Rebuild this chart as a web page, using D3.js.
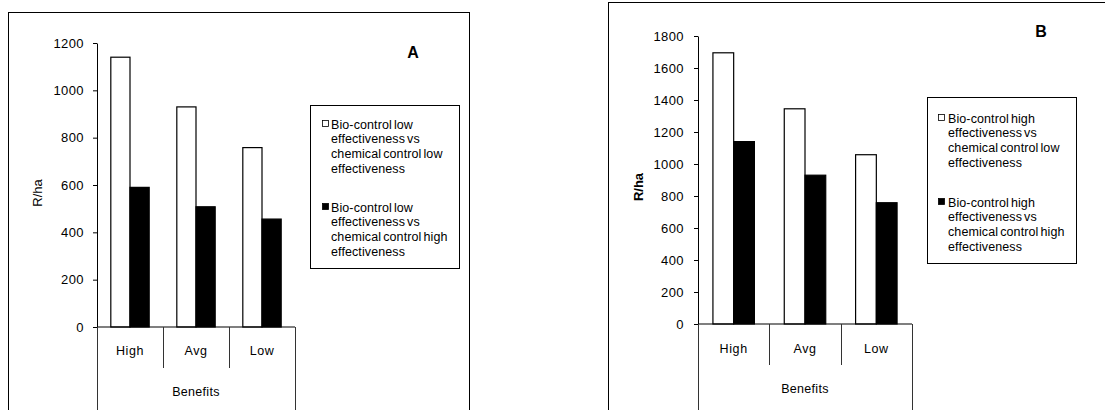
<!DOCTYPE html>
<html>
<head>
<meta charset="utf-8">
<script src="https://cdn.jsdelivr.net/npm/d3@7"></script>
<style>
  body { margin: 0; background: #fff; }
  svg text { font-family: "Liberation Sans", Arial, sans-serif; fill: #000; }
</style>
</head>
<body>
<div id="chart"></div>
<script>
// categories + values
const categories = ['High', 'Avg', 'Low'];
const aLowVsLow  = [1140, 930, 758];
const aLowVsHigh = [590, 508, 456];
const bHighVsLow  = [1695, 1345, 1058];
const bHighVsHigh = [1140, 930, 758];
const aTicks = [0, 200, 400, 600, 800, 1000, 1200];
const bTicks = [0, 200, 400, 600, 800, 1000, 1200, 1400, 1600, 1800];
const aLegend = [
  ['Bio-control low', 'effectiveness vs', 'chemical control low', 'effectiveness'],
  ['Bio-control low', 'effectiveness vs', 'chemical control high', 'effectiveness']
];
const bLegend = [
  ['Bio-control high', 'effectiveness vs', 'chemical control low', 'effectiveness'],
  ['Bio-control high', 'effectiveness vs', 'chemical control high', 'effectiveness']
];

const svg = d3.select('#chart').append('svg')
  .attr('width', 1105).attr('height', 410);

function panel(cfg){
  const g = svg.append('g');

  // outer frame (runs off the picture)
  g.append('rect')
    .attr('x', cfg.frame[0] + 0.5).attr('y', cfg.frame[1] + 0.5)
    .attr('width', cfg.frame[2]).attr('height', cfg.frame[3])
    .attr('fill', 'none').attr('stroke', '#000').attr('stroke-width', 1);

  const y = d3.scaleLinear().domain([0, cfg.max]).range([cfg.y0, cfg.y1]);
  const x = d3.scaleBand().domain(categories).range([cfg.x0, cfg.x1]);
  const sub = d3.scaleBand().domain([0, 1]).range([0, x.bandwidth()])
    .paddingInner(0).paddingOuter(0.72);

  // bars
  const series = [cfg.s1, cfg.s2];
  series.forEach((vals, si) => {
    g.selectAll(null).data(categories).enter().append('rect')
      .attr('x', d => x(d) + sub(si))
      .attr('y', (d, i) => y(vals[i]))
      .attr('width', sub.bandwidth())
      .attr('height', (d, i) => y(0) - y(vals[i]))
      .attr('fill', si === 0 ? '#fff' : '#000')
      .attr('stroke', '#000').attr('stroke-width', 1.2);
  });

  // y axis
  const ya = g.append('g')
    .attr('transform', `translate(${cfg.x0},0)`)
    .call(d3.axisLeft(y).tickValues(cfg.ticks).tickFormat(d3.format('d'))
      .tickSize(4).tickSizeOuter(0).tickPadding(cfg.pad));
  ya.selectAll('text').style('font-size', '13px').style('letter-spacing', '0.4px');
  ya.select('.domain').attr('stroke', '#000');

  // baseline
  g.append('line')
    .attr('x1', cfg.x0).attr('x2', cfg.x1)
    .attr('y1', y(0)).attr('y2', y(0))
    .attr('stroke', '#000').attr('stroke-width', 1.2);

  // category dividers
  const bounds = categories.map(c => x(c)).concat([cfg.x1]);
  bounds.forEach((bx, i) => {
    const outer = i === 0 || i === bounds.length - 1;
    g.append('line')
      .attr('x1', Math.round(bx) + 0.5).attr('x2', Math.round(bx) + 0.5)
      .attr('y1', y(0)).attr('y2', outer ? 420 : cfg.divEnd)
      .attr('stroke', '#333').attr('stroke-width', 1);
  });

  g.selectAll(null).data(categories).enter().append('text')
    .attr('x', d => x(d) + x.bandwidth() / 2)
    .attr('y', cfg.catY)
    .attr('text-anchor', 'middle')
    .style('font-size', '12.5px').style('letter-spacing', '0.6px')
    .text(d => d);

  g.append('text')
    .attr('x', (cfg.x0 + cfg.x1) / 2).attr('y', cfg.benY)
    .attr('text-anchor', 'middle')
    .style('font-size', '12.5px').style('letter-spacing', '0.3px')
    .text('Benefits');

  // y title
  g.append('text')
    .attr('transform', `translate(${cfg.yTitle[0]},${cfg.yTitle[1]}) rotate(-90)`)
    .attr('text-anchor', 'middle')
    .style('font-size', '13px')
    .style('font-weight', cfg.boldY ? 'bold' : 'normal')
    .text('R/ha');

  // panel letter
  g.append('text')
    .attr('x', cfg.letter[0]).attr('y', cfg.letter[1])
    .attr('text-anchor', 'middle')
    .style('font-size', '16px').style('font-weight', 'bold')
    .text(cfg.name);

  // legend
  const lg = g.append('g');
  lg.append('rect')
    .attr('x', cfg.legBox[0] + 0.5).attr('y', cfg.legBox[1] + 0.5)
    .attr('width', cfg.legBox[2]).attr('height', cfg.legBox[3])
    .attr('fill', '#fff').attr('stroke', '#000').attr('stroke-width', 1);
  cfg.legend.forEach((lines, k) => {
    const top = cfg.legRows[k];
    lg.append('rect')
      .attr('x', cfg.legSq + 0.5).attr('y', top - 3.5)
      .attr('width', 6).attr('height', 6)
      .attr('fill', k === 0 ? '#fff' : '#000')
      .attr('stroke', '#000').attr('stroke-width', 0.8);
    lines.forEach((ln, j) => {
      lg.append('text')
        .attr('x', cfg.legText).attr('y', top + 4.5 + j * 14.7)
        .style('font-size', '12.5px').style('letter-spacing', '0.1px').style('word-spacing', '-1.5px')
        .text(ln);
    });
  });
}

panel({
  name: 'A', frame: [8, 12, 461, 420],
  x0: 97, x1: 295, y0: 327, y1: 43, max: 1200, ticks: aTicks, pad: 9,
  s1: aLowVsLow, s2: aLowVsHigh,
  divEnd: 368, catY: 355, benY: 396,
  yTitle: [42, 193], boldY: false, letter: [413, 58],
  legBox: [310, 105, 149, 163], legSq: 322, legText: 331, legRows: [124, 207],
  legend: aLegend
});

panel({
  name: 'B', frame: [608, 2, 520, 430],
  x0: 698, x1: 912, y0: 324, y1: 36, max: 1800, ticks: bTicks, pad: 10,
  s1: bHighVsLow, s2: bHighVsHigh,
  divEnd: 365, catY: 353, benY: 393,
  yTitle: [643, 187], boldY: true, letter: [1041, 37],
  legBox: [927, 97, 149, 166], legSq: 938, legText: 948, legRows: [118, 202],
  legend: bLegend
});
</script>
</body>
</html>
